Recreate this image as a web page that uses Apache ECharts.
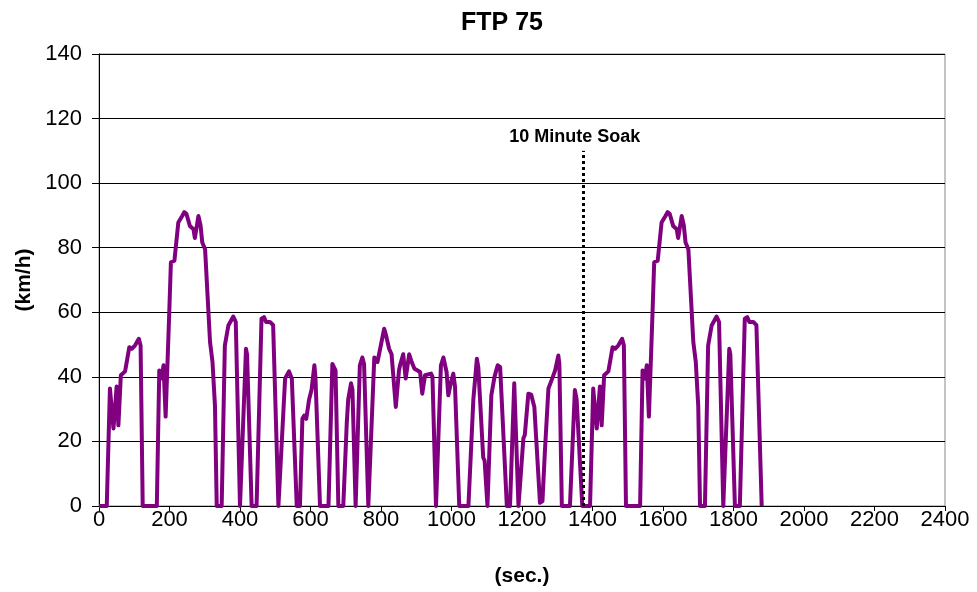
<!DOCTYPE html>
<html>
<head>
<meta charset="utf-8">
<script src="https://cdn.jsdelivr.net/npm/echarts@6/dist/echarts.min.js"></script>
<style>
html,body{margin:0;padding:0;background:#fff;}
#chart{width:977px;height:592px;}
</style>
</head>
<body>
<div id="chart"></div>
<script>
// Cold-start transient phase (sec., km/h)
const coldTime  = [0,22,31,41,50,55,62,74,86,93,102,113,118,124,164,171,178,183,189,199,204,214,225,236,242,248,258,268,272,282,288,293,301,315,322,329,334,348,357,367,381,388,400,417,420,433,447,461,468,474,485,494,509];
const coldSpeed = [0,0,36.4,24,37,25,40.5,41.7,49.2,48.7,49.7,51.8,49.7,0,0,42,39.5,43.6,27.7,59,75.5,76,87.8,89.8,91,90.5,86.7,85.7,83,89.8,87,81.6,79.5,50.8,44.6,31,0,0,49.7,55.9,58.7,57,0,48.7,47,0,0,58,58.5,57,57,56,0];

// Stabilized phase
const stabTime  = [514,528,539,547,561,570,577,582,588,596,603,611,614,627,651,662,671,679,693,703,707,715,719,728,740,747,752,764,768,781,790,794,809,814,823,830,842,851,855,863,870,880,887,895,900,911,917,925,930,942,946,956,970,977,986,991,996,1005,1010,1022,1048,1062,1072,1076,1090,1094,1102,1113,1122,1131,1138,1157,1166,1178,1190,1204,1208,1218,1226,1235,1251,1258,1265,1275,1284,1294,1303,1306,1313,1336,1350,1355,1371];
const stabSpeed = [0,39.5,41.7,39.5,0,0,27,28,27,33,36,43.6,40,0,0,44,42,0,0,26,33,38,36,0,43.6,46,44,0,0,46,44.6,44,54.9,53,48.7,47,30.7,42,44,47,39.5,47,44.6,42.5,43,41.5,34.8,40.5,40,41,40,0,43.6,46,41.5,34.3,37,41,37,0,0,33,45.6,43,15,14,0,34.3,40,43.6,43,0,0,38,0,21,22,34.8,34.5,30.7,1,1.5,17,36.4,39,42,46.6,44,0,0,35.9,33,0];

// Hot-start transient phase
const hotTime  = [1371,1393,1402,1412,1421,1426,1433,1445,1457,1464,1473,1484,1489,1495,1535,1542,1549,1554,1560,1570,1575,1585,1596,1607,1613,1619,1629,1639,1643,1653,1659,1664,1672,1686,1693,1700,1705,1719,1728,1738,1752,1759,1771,1788,1791,1804,1818,1832,1839,1845,1856,1865,1880];
const hotSpeed = [0,0,36.4,24,37,25,40.5,41.7,49.2,48.7,49.7,51.8,49.7,0,0,42,39.5,43.6,27.7,59,75.5,76,87.8,89.8,91,90.5,86.7,85.7,83,89.8,87,81.6,79.5,50.8,44.6,31,0,0,49.7,55.9,58.7,57,0,48.7,47,0,0,58,58.5,57,57,56,0];

// Soak marker
const soakTime = 1375;
const soakTop = 110;
const soakLabel = '10 Minute Soak';

// Axes
const xMin = 0, xMax = 2400, xStep = 200;
const yMin = 0, yMax = 140, yStep = 20;

const allTime = coldTime.concat(stabTime, hotTime);
const allSpeed = coldSpeed.concat(stabSpeed, hotSpeed);
const seriesData = allTime.map((t, i) => [t, allSpeed[i]]);

const FONT = '"Liberation Sans", Arial, sans-serif';
const chart = echarts.init(document.getElementById('chart'), null, {renderer: 'canvas'});
chart.setOption({
  animation: false,
  backgroundColor: '#fff',
  title: {
    text: 'FTP 75',
    left: 497, top: 6, textAlign: 'center',
    textStyle: {fontFamily: FONT, fontWeight: 'bold', fontSize: 25, color: '#000'}
  },
  grid: {left: 99, right: 32, top: 54, bottom: 84, show: true, borderColor: '#888', borderWidth: 1, backgroundColor: '#fff'},
  xAxis: {
    type: 'value', min: xMin, max: xMax, interval: xStep,
    name: '(sec.)', nameLocation: 'middle', nameGap: 60,
    nameTextStyle: {fontFamily: FONT, fontWeight: 'bold', fontSize: 21, color: '#000'},
    axisLine: {show: true, lineStyle: {color: '#000', width: 1}},
    axisTick: {show: true, inside: false, length: 5, lineStyle: {color: '#000'}},
    axisLabel: {fontFamily: FONT, fontSize: 22, color: '#000', margin: 3, formatter: v => String(v)},
    splitLine: {show: false}
  },
  yAxis: {
    type: 'value', min: yMin, max: yMax, interval: yStep,
    name: '(km/h)', nameLocation: 'middle', nameGap: 63, nameRotate: 90,
    nameTextStyle: {fontFamily: FONT, fontWeight: 'bold', fontSize: 21, color: '#000'},
    axisLine: {show: true, lineStyle: {color: '#000', width: 1}},
    axisTick: {show: true, inside: false, length: 7, lineStyle: {color: '#000'}},
    axisLabel: {fontFamily: FONT, fontSize: 22, color: '#000', margin: 17, formatter: v => String(v)},
    splitLine: {show: true, lineStyle: {color: '#000', width: 1}}
  },
  series: [{
    type: 'line',
    data: seriesData,
    showSymbol: false,
    symbol: 'none',
    lineStyle: {color: '#800080', width: 4, join: 'round'},
    itemStyle: {color: '#800080'},
    emphasis: {disabled: true},
    z: 3,
    markLine: {
      silent: true,
      symbol: 'none',
      animation: false,
      lineStyle: {color: '#000', width: 3, type: [3, 3]},
      label: {
        show: true, position: 'end', formatter: soakLabel, distance: 5, offset: [-9, 0],
        fontFamily: FONT, fontWeight: 'bold', fontSize: 18, color: '#000'
      },
      data: [[{coord: [soakTime, yMin]}, {coord: [soakTime, soakTop]}]]
    }
  }]
});
</script>
</body>
</html>
